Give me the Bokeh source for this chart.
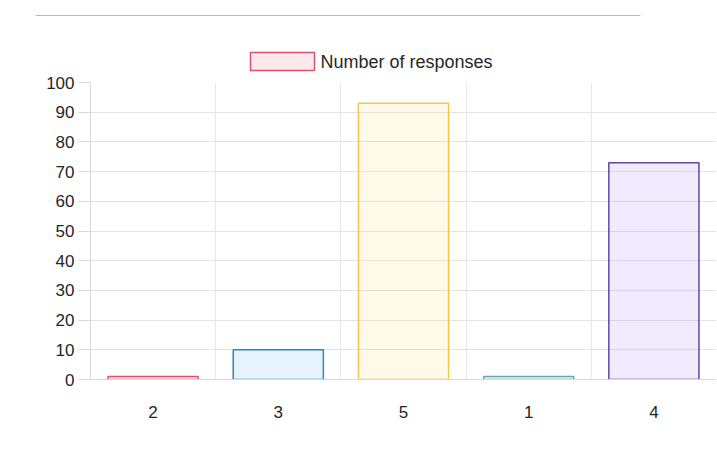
from bokeh.plotting import figure
from bokeh.models import ColumnDataSource, FixedTicker, Range1d
from bokeh.layouts import column
from bokeh.core.properties import value
from bokeh.embed import file_html
from bokeh.resources import INLINE

categories = ["2", "3", "5", "1", "4"]
responses = [1, 10, 93, 1, 73]
series_name = "Number of responses"
fill_colors = ["#ff6384", "#36a2eb", "#ffce56", "#4bc0c0", "#9966ff"]
line_colors = ["#d9536e", "#2f86c8", "#f0c84a", "#6aa6b0", "#5a4aa8"]
y_ticks = list(range(0, 101, 10))

FONT = "Liberation Sans"
W = 716
TEXT_COLOR = "#262626"

# ---- header strip: page separator + legend (pixel-space figure) ----
TOP_H = 72
top = figure(width=W, height=TOP_H, output_backend="svg", toolbar_location=None,
             x_range=Range1d(0, W), y_range=Range1d(TOP_H, 0),
             x_axis_type=None, y_axis_type=None,
             min_border_left=0, min_border_right=0, min_border_top=0, min_border_bottom=0)
top.frame_align = False
top.grid.visible = False
top.outline_line_color = None
top.background_fill_color = "white"
top.border_fill_color = "white"
top.segment(x0=35, y0=15, x1=640, y1=15, line_color="#b8b8b8", line_width=1)
top.quad(left=250, right=314, top=52, bottom=70,
         fill_color=fill_colors[0], fill_alpha=0.14, line_color=line_colors[0], line_width=1.5)
top.text(x=[320], y=[61.5], text=[series_name], text_font=value(FONT),
         text_font_size="18px", text_color=TEXT_COLOR, text_baseline="middle", text_align="left")

# ---- main chart ----
positions = list(range(len(categories)))
source = ColumnDataSource(dict(x=positions, top=responses, fill=fill_colors, line=line_colors))

p = figure(width=W, height=376, output_backend="svg", toolbar_location=None,
           x_range=Range1d(-0.5, len(categories) - 0.5), y_range=Range1d(0, 100),
           min_border_left=90, min_border_right=0, min_border_top=10, min_border_bottom=69)
p.frame_align = False
p.background_fill_color = "white"
p.border_fill_color = "white"
p.outline_line_color = None

p.vbar(x="x", top="top", width=0.72, bottom=0, source=source,
       fill_color="fill", fill_alpha=0.13, line_color="line", line_width=1.5)

# y axis
p.yaxis.ticker = FixedTicker(ticks=y_ticks)
p.yaxis.major_tick_out = 12
p.yaxis.major_tick_in = 0
p.yaxis.minor_tick_line_color = None
p.yaxis.major_tick_line_color = "#d8d8d8"
p.yaxis.axis_line_color = "#d8d8d8"
p.yaxis.major_label_standoff = 4
p.yaxis.major_label_text_font = FONT
p.yaxis.major_label_text_font_size = "17px"
p.yaxis.major_label_text_color = TEXT_COLOR

# x axis
p.xaxis.ticker = FixedTicker(ticks=positions)
p.xaxis.major_label_overrides = {i: c for i, c in zip(positions, categories)}
p.xaxis.major_tick_line_color = None
p.xaxis.minor_tick_line_color = None
p.xaxis.axis_line_color = "#d8d8d8"
p.xaxis.major_label_standoff = 20
p.xaxis.major_label_text_font = FONT
p.xaxis.major_label_text_font_size = "17px"
p.xaxis.major_label_text_color = TEXT_COLOR

# grids
p.ygrid.ticker = FixedTicker(ticks=y_ticks)
p.ygrid.grid_line_color = "#e4e4e4"
p.xgrid.ticker = FixedTicker(ticks=[i - 0.5 for i in range(len(categories) + 1)])
p.xgrid.grid_line_color = "#e8e8e8"

layout = column(top, p, spacing=0)

open("out.html", "w").write(file_html(layout, INLINE))
